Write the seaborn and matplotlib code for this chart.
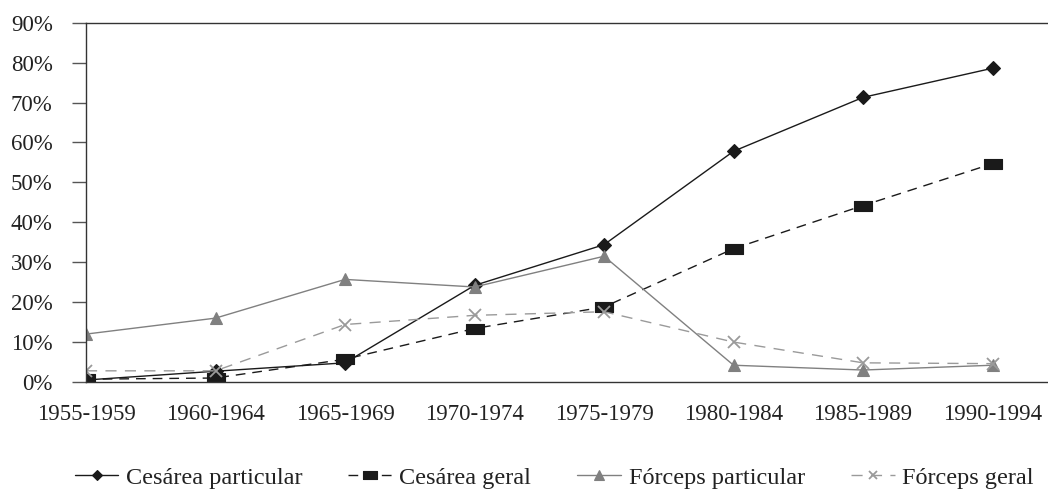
import pandas as pd
import seaborn as sns
import matplotlib.pyplot as plt
from matplotlib.ticker import PercentFormatter

periods = ["1955-1959", "1960-1964", "1965-1969", "1970-1974",
           "1975-1979", "1980-1984", "1985-1989", "1990-1994"]

cesarea_particular = [0.5, 2.7, 4.8, 24.2, 34.4, 57.8, 71.3, 78.6]
cesarea_geral = [0.7, 1.0, 5.7, 13.4, 18.8, 33.4, 44.2, 54.7]
forceps_particular = [12.0, 16.0, 25.7, 23.8, 31.5, 4.2, 3.0, 4.2]
forceps_geral = [2.8, 2.8, 14.4, 16.7, 17.6, 10.0, 4.8, 4.6]

series_names = ["Cesárea particular", "Cesárea geral",
                "Fórceps particular", "Fórceps geral"]
series_values = [cesarea_particular, cesarea_geral,
                 forceps_particular, forceps_geral]

rows = []
for name, vals in zip(series_names, series_values):
    for p, v in zip(periods, vals):
        rows.append({"periodo": p, "serie": name, "valor": v / 100})
df = pd.DataFrame(rows)

sns.set_style("white")
plt.rcParams["font.family"] = ["Liberation Serif", "DejaVu Serif"]

palette = {"Cesárea particular": "#1a1a1a", "Cesárea geral": "#1a1a1a",
           "Fórceps particular": "#808080", "Fórceps geral": "#9a9a9a"}
rect = [(-1.0, -0.6), (1.0, -0.6), (1.0, 0.6), (-1.0, 0.6), (-1.0, -0.6)]
# "x" is line art, so seaborn gets a filled stand-in and it is swapped after
markers = {"Cesárea particular": "D", "Cesárea geral": rect,
           "Fórceps particular": "^", "Fórceps geral": "o"}
dashes = {"Cesárea particular": "", "Cesárea geral": (7, 5),
          "Fórceps particular": "", "Fórceps geral": (8, 6)}
sizes = {"Cesárea particular": 7, "Cesárea geral": 13,
         "Fórceps particular": 9, "Fórceps geral": 8}

fig = plt.figure(figsize=(10.48, 4.93), dpi=100)
ax = fig.add_axes([86 / 1048, 1 - 382 / 493, (1047 - 86) / 1048, (382 - 22.7) / 493])

sns.lineplot(data=df, x="periodo", y="valor", hue="serie", style="serie",
             hue_order=series_names, style_order=series_names,
             palette=palette, markers=markers, dashes=dashes,
             linewidth=1.0, sort=False, ax=ax, legend=True)


def restyle(line, name, scale=1.0):
    line.set_markersize(sizes[name] * scale)
    if name == "Fórceps geral":
        line.set_marker("x")
        line.set_markeredgecolor(palette[name])
        line.set_markeredgewidth(1.3)
    else:
        line.set_markeredgewidth(0.8)
        line.set_markeredgecolor(palette[name])


for line, name in zip(ax.lines, series_names):
    restyle(line, name)

ax.set_xlim(0, 7.42)
ax.set_ylim(0, 0.9)
ax.set_yticks([i / 10 for i in range(10)])
ax.yaxis.set_major_formatter(PercentFormatter(1.0, decimals=0))
ax.set_xticks([0], minor=True)
ax.set_xlabel("")
ax.set_ylabel("")

for side in ["left", "bottom", "top"]:
    ax.spines[side].set_visible(True)
    ax.spines[side].set_color("#333333")
    ax.spines[side].set_linewidth(1.0)
ax.spines["right"].set_visible(False)

ax.tick_params(axis="y", direction="out", length=10, width=1.0,
               color="#555555", pad=14, labelsize=16.5, labelcolor="#222222",
               left=True)
ax.tick_params(axis="x", length=0, pad=16, labelsize=16.5, labelcolor="#222222")
ax.tick_params(axis="x", which="minor", bottom=True, length=5, width=1.0,
               color="#333333")

handles, labels = ax.get_legend_handles_labels()
for h, name in zip(handles, labels):
    if name in sizes:
        restyle(h, name, 0.75)
ax.get_legend().remove()
fig.legend(handles, labels, loc="center", bbox_to_anchor=(554 / 1048, 1 - 478 / 493),
           ncol=4, frameon=False, fontsize=17.5, handlelength=1.8,
           handletextpad=0.3, columnspacing=1.9, labelcolor="#222222")

fig.savefig("out.png", dpi=100)
